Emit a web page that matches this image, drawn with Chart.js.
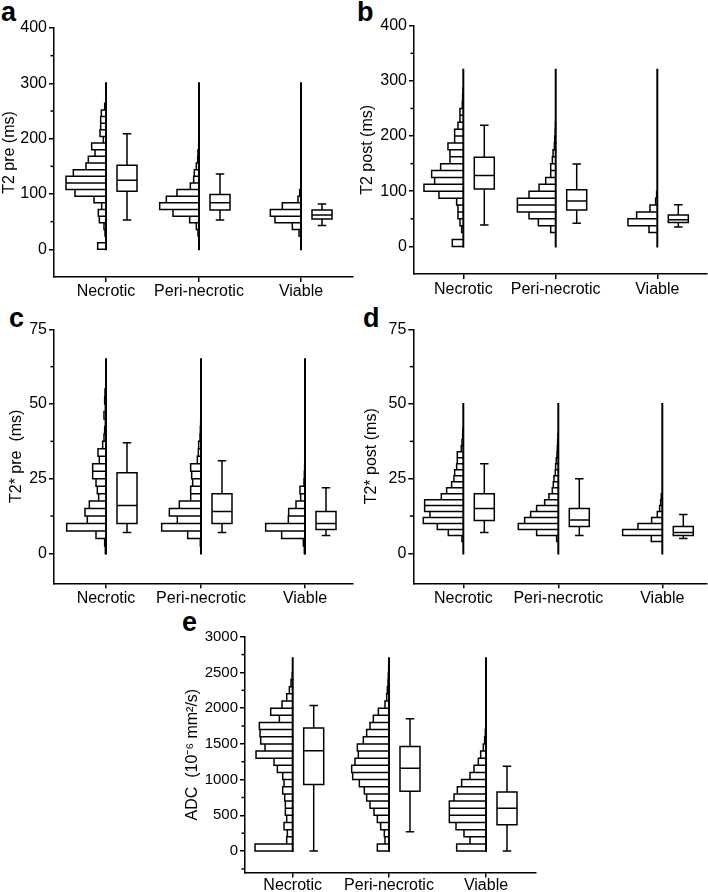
<!DOCTYPE html>
<html><head><meta charset="utf-8">
<script src="https://cdn.jsdelivr.net/npm/chart.js@4.4.1/dist/chart.umd.min.js"></script>
<style>
html,body{margin:0;padding:0;background:#fff;}
body{width:708px;height:892px;position:relative;overflow:hidden;font-family:"Liberation Sans",Arial,sans-serif;}
canvas{position:absolute;}
.lbl{position:absolute;font-weight:bold;font-size:27px;line-height:27px;color:#000;font-family:"Liberation Sans",Arial,sans-serif;}
</style></head><body>
<div class="lbl" style="left:1px;top:-1px">a</div>
<div class="lbl" style="left:357px;top:-1px">b</div>
<div class="lbl" style="left:9px;top:305px">c</div>
<div class="lbl" style="left:363px;top:305px">d</div>
<div class="lbl" style="left:182px;top:609px">e</div>
<canvas id="ca" width="354" height="300" style="left:0;top:0;width:354px;height:300px"></canvas>
<canvas id="cb" width="354" height="300" style="left:354px;top:0;width:354px;height:300px"></canvas>
<canvas id="cc" width="354" height="310" style="left:0;top:300px;width:354px;height:310px"></canvas>
<canvas id="cd" width="354" height="310" style="left:354px;top:300px;width:354px;height:310px"></canvas>
<canvas id="ce" width="380" height="292" style="left:160px;top:600px;width:380px;height:292px"></canvas>
<script>
// ---------------- DATA ----------------
const categories = ['Necrotic', 'Peri-necrotic', 'Viable'];

// Panel a: T2 pre (ms); histogram counts in bins of 12 ms from 0
const t2PreBinWidth = 12;
const t2PreHistNecrotic = [25,0,3,6,20,23,13,36,93,120,120,98,60,53,33,43,8,18,16,16,14,4];
const t2PreHistPeri     = [0,0,3,8,28,78,118,98,66,26,16,14,8,4,3,1];
const t2PreHistViable   = [0,0,6,26,78,92,56,9,4];
// box stats: [min, Q1, median, Q3, max]
const t2PreBoxNecrotic = [53,105,125,152,209];
const t2PreBoxPeri     = [53,71,84,99,136];
const t2PreBoxViable   = [43,55,62,71,82];
const t2PreRangeTop = 300;
const t2PreYTicks = [0,100,200,300,400];
const t2PreYMinor = [50,150,250,350];

// Panel b: T2 post (ms); bins of 12.5 ms
const t2PostBinWidth = 12.5;
const t2PostHistNecrotic = [33,0,5,10,16,16,20,73,118,86,95,68,40,40,46,26,26,16,10,10,3,2,1];
const t2PostHistPeri     = [0,0,15,52,80,115,115,80,50,30,15,15,10,8,4,3,2,1];
const t2PostHistViable   = [0,0,25,88,62,22,5,2];
const t2PostBoxNecrotic = [39,104,128.5,161.5,219.5];
const t2PostBoxPeri     = [42,66,82.5,102.5,149.5];
const t2PostBoxViable   = [35,43.5,48.5,57,75.5];
const t2PostRangeTop = 320;
const t2PostYTicks = [0,100,200,300,400];
const t2PostYMinor = [50,150,250,350];

// Panel c: T2* pre (ms); bins of 2.5 ms
const t2sPreBinWidth = 2.5;
const t2sPreHistNecrotic = [2,4,30,118,56,63,50,22,26,30,40,40,20,24,10,6,4,2,6,2,4,3];
const t2sPreHistPeri     = [0,2,40,118,71,95,65,31,31,25,28,31,11,8,7,3,2,1];
const t2sPreHistViable   = [2,5,70,118,50,49,27,13,15,3,2,1];
const t2sPreBoxNecrotic = [7,10,16,27,37];
const t2sPreBoxPeri     = [7,10,14,20,31];
const t2sPreBoxViable   = [6,8,10,14,22];
const t2sPreRangeTop = 65;
const t2sPreYTicks = [0,25,50,75];
const t2sPreYMinor = [12.5,37.5,62.5];

// Panel d: T2* post (ms); bins of 2 ms
const t2sPostBinWidth = 2;
const t2sPostHistNecrotic = [0,0,4,45,78,120,100,116,116,66,50,35,28,26,20,18,18,6,4,2,1];
const t2sPostHistPeri     = [0,0,5,65,120,101,83,65,41,28,18,15,13,9,8,6,4,3,2,1];
const t2sPostHistViable   = [0,0,33,119,73,32,15,8,5,3];
const t2sPostBoxNecrotic = [7,11,15,20,30];
const t2sPostBoxPeri     = [6,9,11.2,15,25];
const t2sPostBoxViable   = [5,6,7,9,13];
const t2sPostRangeTop = 50;
const t2sPostYTicks = [0,25,50,75];
const t2sPostYMinor = [12.5,37.5,62.5];

// Panel e: ADC (10^-6 mm^2/s); bins of 100
const adcBinWidth = 100;
const adcHistNecrotic = [113,18,16,26,18,22,22,24,30,26,30,46,56,110,83,96,98,100,40,66,32,18,10,5,2];
const adcHistPeri     = [35,12,14,25,35,45,57,67,74,89,109,112,102,92,95,77,67,57,47,32,12,7,5,3,2,1];
const adcHistViable   = [88,48,66,90,110,110,110,96,86,73,48,36,23,16,8,4,2];
const adcBoxNecrotic = [0,930,1405,1721,2037];
const adcBoxPeri     = [270,837,1158,1465,1851];
const adcBoxViable   = [0,367,600,828,1186];
const adcRangeTop = 2700;
const adcYTicks = [0,500,1000,1500,2000,2500,3000];
const adcYMinor = [-250,250,750,1250,1750,2250,2750];

// ---------------- DRAWING HELPERS ----------------
const HIST_SCALE = 1/3;   // x-units per count
const BOX_OFFSET = 21;    // box centre to the right of category baseline
const BOX_HALF = 10;
const CAP_HALF = 3.5;
const GAP = {x: null, y: null};
const FONT = '"Liberation Sans", Arial, sans-serif';

function histPoints(base, counts, binW) {
  const pts = [];
  counts.forEach((c, i) => {
    if (!c) return;
    const lo = i * binW, hi = lo + binW, x = base - c * HIST_SCALE;
    pts.push({x: base, y: lo}, {x: x, y: lo}, {x: x, y: hi}, {x: base, y: hi}, GAP);
  });
  return pts;
}
function boxPoints(base, b) {
  const c = base + BOX_OFFSET, w = BOX_HALF, k = CAP_HALF;
  return [
    {x:c-w,y:b[1]},{x:c+w,y:b[1]},{x:c+w,y:b[3]},{x:c-w,y:b[3]},{x:c-w,y:b[1]},GAP,
    {x:c-w,y:b[2]},{x:c+w,y:b[2]},GAP,
    {x:c,y:b[3]},{x:c,y:b[4]},GAP,
    {x:c-k,y:b[4]},{x:c+k,y:b[4]},GAP,
    {x:c,y:b[1]},{x:c,y:b[0]},GAP,
    {x:c-k,y:b[0]},{x:c+k,y:b[0]}
  ];
}
function lineDs(data, width) {
  return {data: data, showLine: true, pointRadius: 0, pointHoverRadius: 0, borderColor: '#000',
          backgroundColor: '#000', borderWidth: width, spanGaps: false, tension: 0, fill: false,
          borderJoinStyle: 'miter', borderCapStyle: 'square'};
}

const minorTickPlugin = {
  id: 'minorTicks',
  afterDraw(chart, args, opts) {
    const s = chart.scales.y, ctx = chart.ctx;
    ctx.save(); ctx.strokeStyle = '#000'; ctx.lineWidth = 1.5;
    (opts.values || []).forEach(v => {
      const py = s.getPixelForValue(v);
      ctx.beginPath(); ctx.moveTo(s.right - 3.5, py); ctx.lineTo(s.right, py); ctx.stroke();
    });
    ctx.restore();
  }
};

function makePanel(p) {
  const datasets = [];
  p.hists.forEach((h, i) => {
    const base = p.catPos[i];
    datasets.push(lineDs(histPoints(base, h, p.binW), 1.5));
    datasets.push(lineDs([{x: base, y: 0}, {x: base, y: p.rangeTop}], 2));
    datasets.push(lineDs(boxPoints(base, p.boxes[i]), 1.5));
  });
  new Chart(document.getElementById(p.id), {
    type: 'scatter',
    data: {datasets: datasets},
    plugins: [minorTickPlugin],
    options: {
      responsive: false, animation: false, devicePixelRatio: 1,
      layout: {padding: {top: p.padTop, right: p.padRight, left: 0, bottom: 0}},
      plugins: {legend: {display: false}, tooltip: {enabled: false}, minorTicks: {values: p.yMinor}},
      events: [],
      scales: {
        x: {
          type: 'linear', min: 0, max: p.xMax,
          afterBuildTicks: s => { s.ticks = p.catPos.map(v => ({value: v})); },
          afterFit: s => { s.height = p.xHeight; },
          ticks: {autoSkip: false, maxRotation: 0, minRotation: 0, color: '#000', padding: p.xPad,
                  font: {family: FONT, size: 16, lineHeight: 1},
                  callback: (v, i) => categories[i]},
          grid: {drawOnChartArea: false, drawTicks: true, tickLength: 5, color: '#000', lineWidth: 1.5},
          border: {display: true, color: '#000', width: 1.5}
        },
        y: {
          type: 'linear', min: p.yMin, max: p.yMax,
          afterBuildTicks: s => { s.ticks = p.yTicks.map(v => ({value: v})); },
          afterFit: s => { s.width = p.yWidth; },
          ticks: {color: '#000', padding: 2, font: {family: FONT, size: p.yFont}, callback: v => String(v)},
          grid: {drawOnChartArea: false, drawTicks: true, tickLength: 5, color: '#000', lineWidth: 1.5},
          border: {display: true, color: '#000', width: 1.5},
          title: {display: true, text: p.yTitle, color: '#000', font: {family: FONT, size: 16},
                  padding: {top: p.titlePad, bottom: 0}}
        }
      }
    }
  });
}

makePanel({id: 'ca', yTitle: 'T2 pre (ms)', yMin: -50, yMax: 400, yTicks: t2PreYTicks, yMinor: t2PreYMinor,
  binW: t2PreBinWidth, rangeTop: t2PreRangeTop,
  hists: [t2PreHistNecrotic, t2PreHistPeri, t2PreHistViable],
  boxes: [t2PreBoxNecrotic, t2PreBoxPeri, t2PreBoxViable],
  catPos: [52, 145, 247], xMax: 299, yWidth: 54, padTop: 28, padRight: 1, xHeight: 23, xPad: 2, titlePad: 0, yFont: 16});
makePanel({id: 'cb', yTitle: 'T2 post (ms)', yMin: -50, yMax: 400, yTicks: t2PostYTicks, yMinor: t2PostYMinor,
  binW: t2PostBinWidth, rangeTop: t2PostRangeTop,
  hists: [t2PostHistNecrotic, t2PostHistPeri, t2PostHistViable],
  boxes: [t2PostBoxNecrotic, t2PostBoxPeri, t2PostBoxViable],
  catPos: [49.3, 141.7, 243.3], xMax: 293, yWidth: 60, padTop: 25.7, padRight: 1, xHeight: 26, xPad: 3, titlePad: 3.7, yFont: 16});
makePanel({id: 'cc', yTitle: 'T2* pre  (ms)', yMin: -10, yMax: 75, yTicks: t2sPreYTicks, yMinor: t2sPreYMinor,
  binW: t2sPreBinWidth, rangeTop: t2sPreRangeTop,
  hists: [t2sPreHistNecrotic, t2sPreHistPeri, t2sPreHistViable],
  boxes: [t2sPreBoxNecrotic, t2sPreBoxPeri, t2sPreBoxViable],
  catPos: [52, 147, 251], xMax: 299, yWidth: 54, padTop: 29.3, padRight: 1, xHeight: 26.7, xPad: 2, titlePad: 6.5, yFont: 16});
makePanel({id: 'cd', yTitle: 'T2* post (ms)', yMin: -10, yMax: 75, yTicks: t2sPostYTicks, yMinor: t2sPostYMinor,
  binW: t2sPostBinWidth, rangeTop: t2sPostRangeTop,
  hists: [t2sPostHistNecrotic, t2sPostHistPeri, t2sPostHistViable],
  boxes: [t2sPostBoxNecrotic, t2sPostBoxPeri, t2sPostBoxViable],
  catPos: [50, 145, 249], xMax: 293.7, yWidth: 59.3, padTop: 29.3, padRight: 1, xHeight: 26.7, xPad: 2, titlePad: 8, yFont: 16});
makePanel({id: 'ce', yTitle: 'ADC  (10\u207B\u2076 mm\u00B2/s)', yMin: -300, yMax: 3000, yTicks: adcYTicks, yMinor: adcYMinor,
  binW: adcBinWidth, rangeTop: adcRangeTop,
  hists: [adcHistNecrotic, adcHistPeri, adcHistViable],
  boxes: [adcBoxNecrotic, adcBoxPeri, adcBoxViable],
  catPos: [47.7, 144, 241], xMax: 291, yWidth: 85, padTop: 36.7, padRight: 4, xHeight: 19.5, xPad: 0, titlePad: 23, yFont: 15});
</script>
</body></html>
